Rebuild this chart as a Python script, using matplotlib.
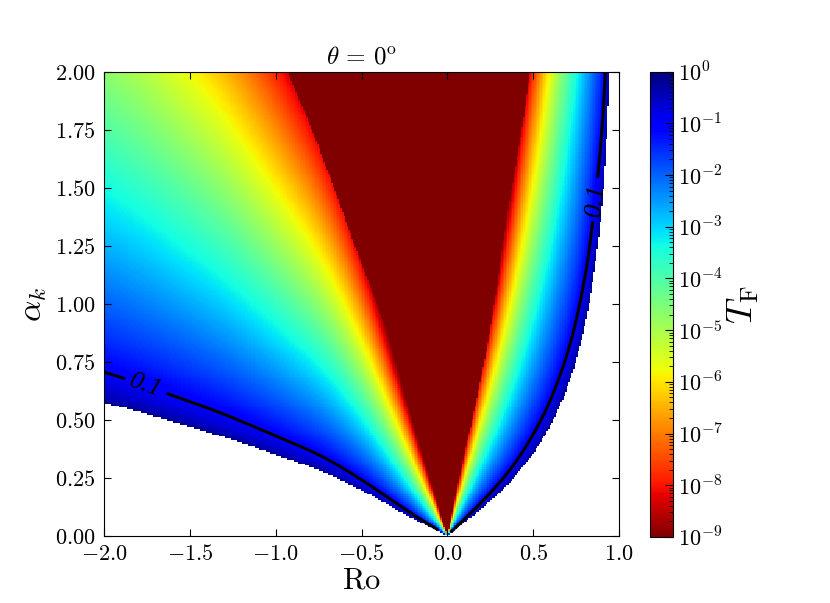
import numpy as np
import matplotlib
matplotlib.use('Agg')
import matplotlib.pyplot as plt
from matplotlib.colors import LogNorm
from matplotlib.ticker import LogLocator, FuncFormatter

plt.rcParams['mathtext.fontset'] = 'cm'
plt.rcParams['font.family'] = 'serif'
plt.rcParams['font.serif'] = ['cmr10', 'DejaVu Serif']

# lower edge of the tunnelling region (white = propagative)
ro_left = np.array([-2.0, -1.826, -1.535, -1.244, -1.033, -0.838, -0.644, -0.45, -0.256, -0.101, 0.0])
alpha_left = np.array([0.575, 0.543, 0.478, 0.417, 0.356, 0.313, 0.256, 0.177, 0.098, 0.033, 0.0])
ro_right = np.array([0.0, 0.151, 0.268, 0.443, 0.579, 0.676, 0.734, 0.773, 0.831, 0.874, 0.897, 0.918, 0.932, 0.944])
alpha_right = np.array([0.0, 0.069, 0.141, 0.284, 0.428, 0.572, 0.716, 0.79, 1.003, 1.247, 1.35, 1.595, 1.753, 2.0])

# edges of the wedge where T_F < 1e-9
red_alpha_l = np.array([0.0, 0.299, 0.586, 0.991, 1.164, 1.451, 1.739, 2.0])
red_ro_l = np.array([0.0, -0.105, -0.217, -0.402, -0.499, -0.635, -0.78, -0.932])
red_alpha_r = np.array([0.0, 0.141, 0.428, 0.716, 1.147, 1.362, 1.667, 2.0])
red_ro_r = np.array([0.0, 0.035, 0.122, 0.21, 0.307, 0.34, 0.42, 0.482])

# decades of T_F lost per unit of sqrt(s^2 - 1), s = alpha_k / alpha_edge
decay = 1.4

xticks = [-2.0, -1.5, -1.0, -0.5, 0.0, 0.5, 1.0]
yticks = [0.0, 0.25, 0.5, 0.75, 1.0, 1.25, 1.5, 1.75, 2.0]
cticks = [1e-9, 1e-8, 1e-7, 1e-6, 1e-5, 1e-4, 1e-3, 1e-2, 1e-1, 1e0]


def smooth(y, n=161):
    # running mean with odd reflection at the ends (keeps end points and slopes)
    h = n // 2
    lo = 2 * y[0] - y[1:h + 1][::-1]
    hi = 2 * y[-1] - y[-h - 1:-1][::-1]
    return np.convolve(np.concatenate([lo, y, hi]), np.ones(n) / n, mode='valid')


# smoothed edge curves
ro_d = np.linspace(-2, 0, 801)
al_d_left = smooth(np.interp(ro_d, ro_left, alpha_left))
al_d = np.linspace(0, 2, 801)
ro_d_right = smooth(np.interp(al_d, alpha_right, ro_right))
red_l_d = smooth(np.interp(al_d, red_alpha_l, red_ro_l))
red_r_d = smooth(np.interp(al_d, red_alpha_r, red_ro_r))

ro = np.linspace(-2, 1, 331)
alpha = np.linspace(0, 2, 241)
RO, AL = np.meshgrid(ro, alpha)
aw = np.where(RO < 0, np.interp(RO, ro_d, al_d_left),
              np.interp(RO, ro_d_right, al_d, right=np.inf))
s = AL / np.maximum(aw, 1e-6)
logT = -decay * np.sqrt(np.clip(s**2 - 1, 0, None))
logT = np.clip(logT, -12, 0)
T = np.ma.masked_where(s < 1, 10.0**logT)
wedge = (RO > np.interp(AL, al_d, red_l_d)) & (RO < np.interp(AL, al_d, red_r_d))
T[wedge & (s >= 1)] = 1e-12

fig = plt.figure(figsize=(8.3, 6.03), dpi=100)
ax = fig.add_axes([0.1253, 0.1111, 0.6205, 0.7695])
mesh = ax.pcolormesh(RO, AL, T, cmap='jet_r', norm=LogNorm(vmin=1e-9, vmax=1), shading='nearest')
cs = ax.contour(RO, AL, T, levels=[0.1], colors='k', linewidths=2.2)
labs = ax.clabel(cs, fmt={0.1: '0.1'}, manual=[(-1.75, 0.66), (0.87, 1.45)], fontsize=19, inline=True)
for t in labs:
    t.set_family('Liberation Serif')
    t.set_fontstyle('italic')

ax.set_xlim(-2, 1)
ax.set_ylim(0, 2)
ax.set_xticks(xticks)
ax.set_yticks(yticks)
ax.xaxis.set_major_formatter(FuncFormatter(lambda v, p: r'$%.1f$' % v))
ax.yaxis.set_major_formatter(FuncFormatter(lambda v, p: r'$%.2f$' % v))
ax.tick_params(direction='in', top=True, right=True, length=5, labelsize=16, pad=6)
ax.set_title(r'$\theta\,=\,0^{\rm o}$', fontsize=18)
ax.set_xlabel(r'$\rm Ro$', fontsize=22, labelpad=2)
ax.set_ylabel(r'$\alpha_k$', fontsize=24, labelpad=4)

cax = fig.add_axes([0.7831, 0.1095, 0.0277, 0.7717])
cb = fig.colorbar(mesh, cax=cax)
cb.set_ticks(cticks)
cax.yaxis.set_major_formatter(FuncFormatter(lambda v, p: r'$10^{%d}$' % round(np.log10(v))))
cax.yaxis.set_minor_locator(LogLocator(base=10, subs=np.arange(2, 10), numticks=30))
cax.tick_params(which='major', direction='in', length=6, labelsize=16)
cax.tick_params(which='minor', direction='in', length=3)
cb.set_label(r'$T_{\rm F}$', fontsize=26, labelpad=2)

fig.savefig('out.png', dpi=100)
